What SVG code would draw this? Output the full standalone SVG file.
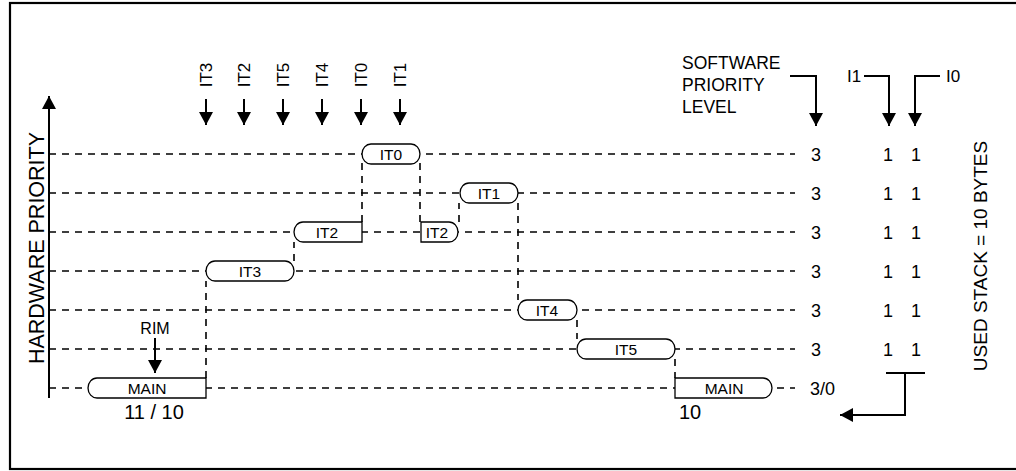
<svg xmlns="http://www.w3.org/2000/svg" width="1016" height="471" viewBox="0 0 1016 471">
<style>
text{font-family:"Liberation Sans",Arial,sans-serif;fill:#000}
.dash{stroke:#000;stroke-width:1.6;stroke-dasharray:7 6;fill:none}
.node path{fill:#fff;stroke:#000;stroke-width:1.3}
.node text{font-size:15.5px;text-anchor:middle}
.ln{stroke:#000;stroke-width:2;fill:none}
.big{font-size:18px}
.mid{text-anchor:middle}
</style>
<defs>
<marker id="ah" markerUnits="userSpaceOnUse" markerWidth="16" markerHeight="16" viewBox="0 0 16 16" refX="13" refY="8" orient="auto">
<path d="M0,1 L13,8 L0,15 Z" fill="#000"/>
</marker>
</defs>
<rect x="10" y="3" width="1020" height="466" fill="none" stroke="#000" stroke-width="2.2"/>

<g id="axis">
<line class="ln" x1="49" y1="398" x2="49" y2="96" marker-end="url(#ah)"/>
<text transform="translate(44,248) rotate(-90)" font-size="21.5" text-anchor="middle">HARDWARE PRIORITY</text>
</g>

<g id="connectors">
<line class="dash" x1="49" y1="154" x2="795" y2="154"/>
<line class="dash" x1="49" y1="193" x2="795" y2="193"/>
<line class="dash" x1="49" y1="232" x2="795" y2="232"/>
<line class="dash" x1="49" y1="271" x2="795" y2="271"/>
<line class="dash" x1="49" y1="310" x2="795" y2="310"/>
<line class="dash" x1="49" y1="349" x2="795" y2="349"/>
<line class="dash" x1="49" y1="388" x2="795" y2="388"/>
<line class="dash" x1="206" y1="378" x2="206" y2="281"/>
<line class="dash" x1="294" y1="261" x2="294" y2="242"/>
<line class="dash" x1="362" y1="222" x2="362" y2="163"/>
<line class="dash" x1="420" y1="163" x2="420" y2="222"/>
<line class="dash" x1="459" y1="222" x2="459" y2="203"/>
<line class="dash" x1="518" y1="203" x2="518" y2="300"/>
<line class="dash" x1="577" y1="320" x2="577" y2="339"/>
<line class="dash" x1="675" y1="359" x2="675" y2="378"/>
<line class="ln" x1="206" y1="99" x2="206" y2="125" marker-end="url(#ah)"/>
<line class="ln" x1="244" y1="99" x2="244" y2="125" marker-end="url(#ah)"/>
<line class="ln" x1="283" y1="99" x2="283" y2="125" marker-end="url(#ah)"/>
<line class="ln" x1="322" y1="99" x2="322" y2="125" marker-end="url(#ah)"/>
<line class="ln" x1="361" y1="99" x2="361" y2="125" marker-end="url(#ah)"/>
<line class="ln" x1="400" y1="99" x2="400" y2="125" marker-end="url(#ah)"/>
<line class="ln" x1="155" y1="338" x2="155" y2="373" marker-end="url(#ah)"/>
<path class="ln" d="M790,76 H816 V126" marker-end="url(#ah)"/>
<path class="ln" d="M864,76 H889 V126" marker-end="url(#ah)"/>
<path class="ln" d="M940,76 H915 V126" marker-end="url(#ah)"/>
<path class="ln" d="M886,373 H925 M905,373 V415 H840" marker-end="url(#ah)"/>
</g>

<g id="interrupt-labels">
<text transform="translate(212,75) rotate(-90)" text-anchor="middle" font-size="17">IT3</text>
<text transform="translate(250,75) rotate(-90)" text-anchor="middle" font-size="17">IT2</text>
<text transform="translate(289,75) rotate(-90)" text-anchor="middle" font-size="17">IT5</text>
<text transform="translate(328,75) rotate(-90)" text-anchor="middle" font-size="17">IT4</text>
<text transform="translate(367,75) rotate(-90)" text-anchor="middle" font-size="17">IT0</text>
<text transform="translate(406,75) rotate(-90)" text-anchor="middle" font-size="17">IT1</text>
</g>

<g id="node-it0" class="node"><path d="M371,144 H411 A9,10 0 0 1 411,164 H371 A9,10 0 0 1 371,144 Z"/><text x="391" y="159.5">IT0</text></g>
<g id="node-it1" class="node"><path d="M469,183 H509 A9,10 0 0 1 509,203 H469 A9,10 0 0 1 469,183 Z"/><text x="489" y="198.5">IT1</text></g>
<g id="node-it2a" class="node"><path d="M303,222 H362 V242 H303 A9,10 0 0 1 303,222 Z"/><text x="327" y="237.5">IT2</text></g>
<g id="node-it2b" class="node"><path d="M421,222 H449 A9,10 0 0 1 449,242 H421 Z"/><text x="437" y="237.5">IT2</text></g>
<g id="node-it3" class="node"><path d="M215,261 H285 A9,10 0 0 1 285,281 H215 A9,10 0 0 1 215,261 Z"/><text x="250" y="276.5">IT3</text></g>
<g id="node-it4" class="node"><path d="M527,300 H568 A9,10 0 0 1 568,320 H527 A9,10 0 0 1 527,300 Z"/><text x="547" y="315.5">IT4</text></g>
<g id="node-it5" class="node"><path d="M586,339 H666 A9,10 0 0 1 666,359 H586 A9,10 0 0 1 586,339 Z"/><text x="626" y="354.5">IT5</text></g>
<g id="node-main-a" class="node"><path d="M97,378 H206 V398 H97 A9,10 0 0 1 97,378 Z"/><text x="147" y="393.5">MAIN</text></g>
<g id="node-main-b" class="node"><path d="M675,378 H763 A9,10 0 0 1 763,398 H675 Z"/><text x="724" y="393.5">MAIN</text></g>

<g id="labels">
<text x="155" y="334" font-size="16" text-anchor="middle">RIM</text>
<text x="154" y="419" font-size="20" text-anchor="middle">11 / 10</text>
<text x="679" y="419" font-size="20">10</text>
<text x="682" y="69" font-size="17.5">SOFTWARE</text>
<text x="682" y="91" font-size="17.5">PRIORITY</text>
<text x="682" y="113" font-size="17.5">LEVEL</text>
<text x="847" y="82" font-size="17">I1</text>
<text x="946" y="82" font-size="17">I0</text>
<text transform="translate(987,256) rotate(-90)" font-size="19" text-anchor="middle">USED STACK = 10 BYTES</text>
</g>

<g id="columns" class="big">
<text x="816" y="161" class="mid">3</text><text x="888" y="161" class="mid">1</text><text x="916" y="161" class="mid">1</text>
<text x="816" y="200" class="mid">3</text><text x="888" y="200" class="mid">1</text><text x="916" y="200" class="mid">1</text>
<text x="816" y="239" class="mid">3</text><text x="888" y="239" class="mid">1</text><text x="916" y="239" class="mid">1</text>
<text x="816" y="278" class="mid">3</text><text x="888" y="278" class="mid">1</text><text x="916" y="278" class="mid">1</text>
<text x="816" y="317" class="mid">3</text><text x="888" y="317" class="mid">1</text><text x="916" y="317" class="mid">1</text>
<text x="816" y="356" class="mid">3</text><text x="888" y="356" class="mid">1</text><text x="916" y="356" class="mid">1</text>
<text x="810" y="395">3/0</text>
</g>
</svg>
